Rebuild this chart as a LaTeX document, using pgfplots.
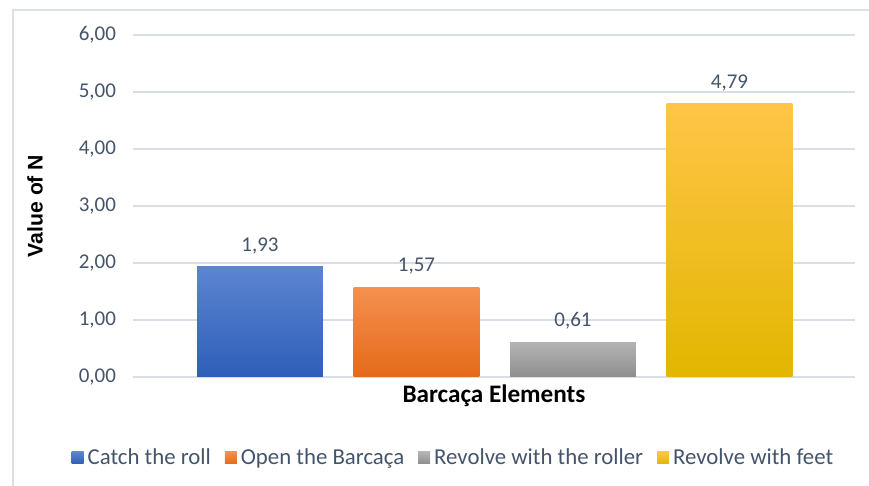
\documentclass[border=0pt]{standalone}
\usepackage{pgfplots}
\pgfplotsset{compat=1.18}
\usepackage{fontspec}
\setmainfont{Carlito}
\newfontfamily\arialfont{Liberation Sans}
\definecolor{txt}{RGB}{68,84,106}
\definecolor{grd}{RGB}{217,221,229}
\definecolor{frm}{RGB}{221,224,230}
\definecolor{bluT}{RGB}{92,133,208}
\definecolor{bluB}{RGB}{46,94,184}
\definecolor{orT}{RGB}{244,144,80}
\definecolor{orB}{RGB}{228,106,24}
\definecolor{grT}{RGB}{180,180,180}
\definecolor{grB}{RGB}{142,142,142}
\definecolor{yeT}{RGB}{255,197,72}
\definecolor{yeB}{RGB}{226,182,0}
\begin{document}
\begin{tikzpicture}
\path[use as bounding box] (0pt,0pt) rectangle (434.5pt,243pt);
\draw[frm, line width=0.6pt] (6.5pt,0pt) -- (6.5pt,238pt) -- (434.5pt,238pt);
\begin{axis}[
  at={(66.5pt,54.5pt)}, anchor=south west,
  scale only axis, width=361pt, height=171pt,
  xmin=-0.8115, xmax=3.802, ymin=0, ymax=6,
  ytick={0,1,2,3,4,5,6},
  xtick=\empty,
  axis line style={draw=none},
  major tick length=0pt,
  ymajorgrids, grid style={grd, line width=0.6pt},
  tick label style={font=\fontsize{10.5}{12}\selectfont, text=txt},
  yticklabel style={xshift=-5pt},
  /pgf/number format/.cd, use comma, fixed, fixed zerofill, precision=2, assume math mode=true,
  /pgfplots/.cd,
  nodes near coords,
  nodes near coords style={font=\fontsize{10.5}{12}\selectfont, text=txt, yshift=3pt},
  ylabel={\arialfont\bfseries Value of N},
  ylabel style={at={(axis description cs:-0.1357,0.5)}, anchor=center, font=\fontsize{10.6}{12}\selectfont, text=black},
  xlabel={\textbf{Barcaça Elements}},
  xlabel style={at={(axis description cs:0.5,-0.0556)}, anchor=center, font=\fontsize{12.6}{14}\selectfont, text=black},
  legend columns=4,
  legend style={at={(axis description cs:0.4452,-0.2368)}, anchor=center, draw=none, fill=none,
    font=\fontsize{11.4}{13}\selectfont, text=txt,
    /tikz/every even column/.append style={column sep=5pt}},
  legend image code/.code={\path[#1, draw=none] (0pt,-3pt) rectangle (6pt,3pt);},
]
\addplot[ybar, bar width=0.805, bar shift=0pt, draw=none, top color=bluT, bottom color=bluB] coordinates {(0,1.93)};
\addplot[ybar, bar width=0.805, bar shift=0pt, draw=none, top color=orT, bottom color=orB] coordinates {(1,1.57)};
\addplot[ybar, bar width=0.805, bar shift=0pt, draw=none, top color=grT, bottom color=grB] coordinates {(2,0.61)};
\addplot[ybar, bar width=0.805, bar shift=0pt, draw=none, top color=yeT, bottom color=yeB] coordinates {(3,4.79)};
\legend{Catch the roll, Open the Barcaça, Revolve with the roller, Revolve with feet}
\end{axis}
\end{tikzpicture}
\end{document}
